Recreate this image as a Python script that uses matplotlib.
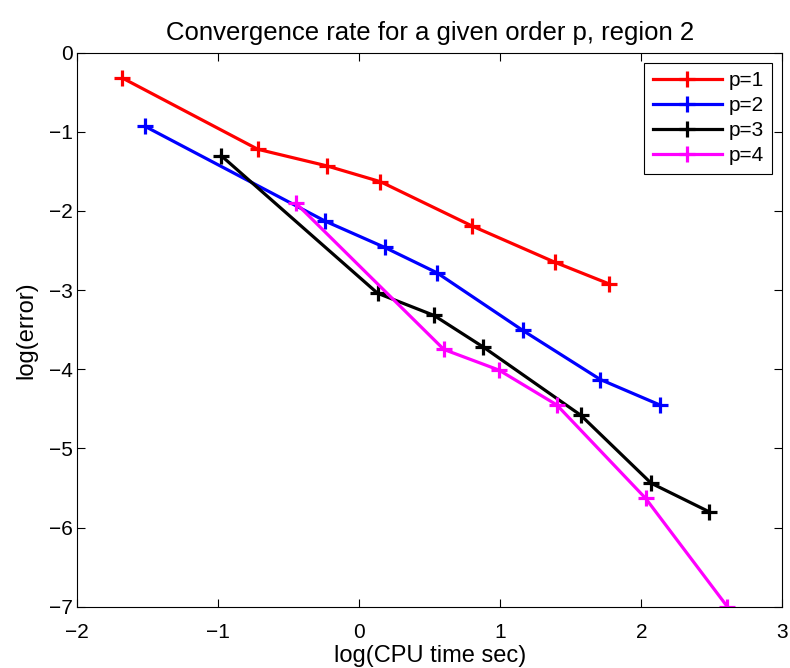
import matplotlib
matplotlib.use('Agg')
import matplotlib.pyplot as plt

plt.rcParams['font.family'] = ['Liberation Sans', 'DejaVu Sans']

# log(CPU time), log(error) per order p
x_p1 = [-1.68, -0.72, -0.23, 0.15, 0.80, 1.39, 1.77]
y_p1 = [-0.32, -1.22, -1.43, -1.63, -2.19, -2.65, -2.92]
x_p2 = [-1.52, -0.24, 0.18, 0.55, 1.16, 1.71, 2.13]
y_p2 = [-0.93, -2.13, -2.46, -2.78, -3.51, -4.13, -4.45]
x_p3 = [-0.98, 0.13, 0.53, 0.88, 1.57, 2.07, 2.48]
y_p3 = [-1.30, -3.04, -3.32, -3.72, -4.58, -5.44, -5.80]
x_p4 = [-0.45, 0.60, 0.99, 1.40, 2.03, 2.61]
y_p4 = [-1.90, -3.75, -4.01, -4.45, -5.63, -7.00]

fig = plt.figure(figsize=(7.9, 6.68), dpi=100)
ax = fig.add_axes([0.0978, 0.0918, 0.8925, 0.8293])

style = dict(marker='+', lw=2.3, ms=12, mew=2.3)
ax.plot(x_p1, y_p1, color='red', label='p=1', **style)
ax.plot(x_p2, y_p2, color='blue', label='p=2', **style)
ax.plot(x_p3, y_p3, color='black', label='p=3', **style)
ax.plot(x_p4, y_p4, color='magenta', label='p=4', **style)

ax.set_xlim(-2, 3)
ax.set_ylim(-7, 0)
ax.set_xticks(range(-2, 4))
ax.set_yticks(range(-7, 1))
ax.tick_params(direction='in', top=True, right=True, labelsize=15, length=6)
ax.tick_params(axis='x', pad=12)
ax.tick_params(axis='y', pad=3.5)
ax.set_xlabel('log(CPU time sec)', fontsize=17, labelpad=2)
ax.set_ylabel('log(error)', fontsize=17, labelpad=8)
ax.set_title('Convergence rate for a given order p, region 2', fontsize=18.5, pad=9)

leg = ax.legend(loc='upper right', fontsize=15, fancybox=False, framealpha=1,
                edgecolor='black', handlelength=3.3, borderaxespad=0.48,
                labelspacing=0.28, handletextpad=0.32, borderpad=0.42)
leg.get_frame().set_linewidth(0.8)

fig.savefig('out.png', dpi=100)
